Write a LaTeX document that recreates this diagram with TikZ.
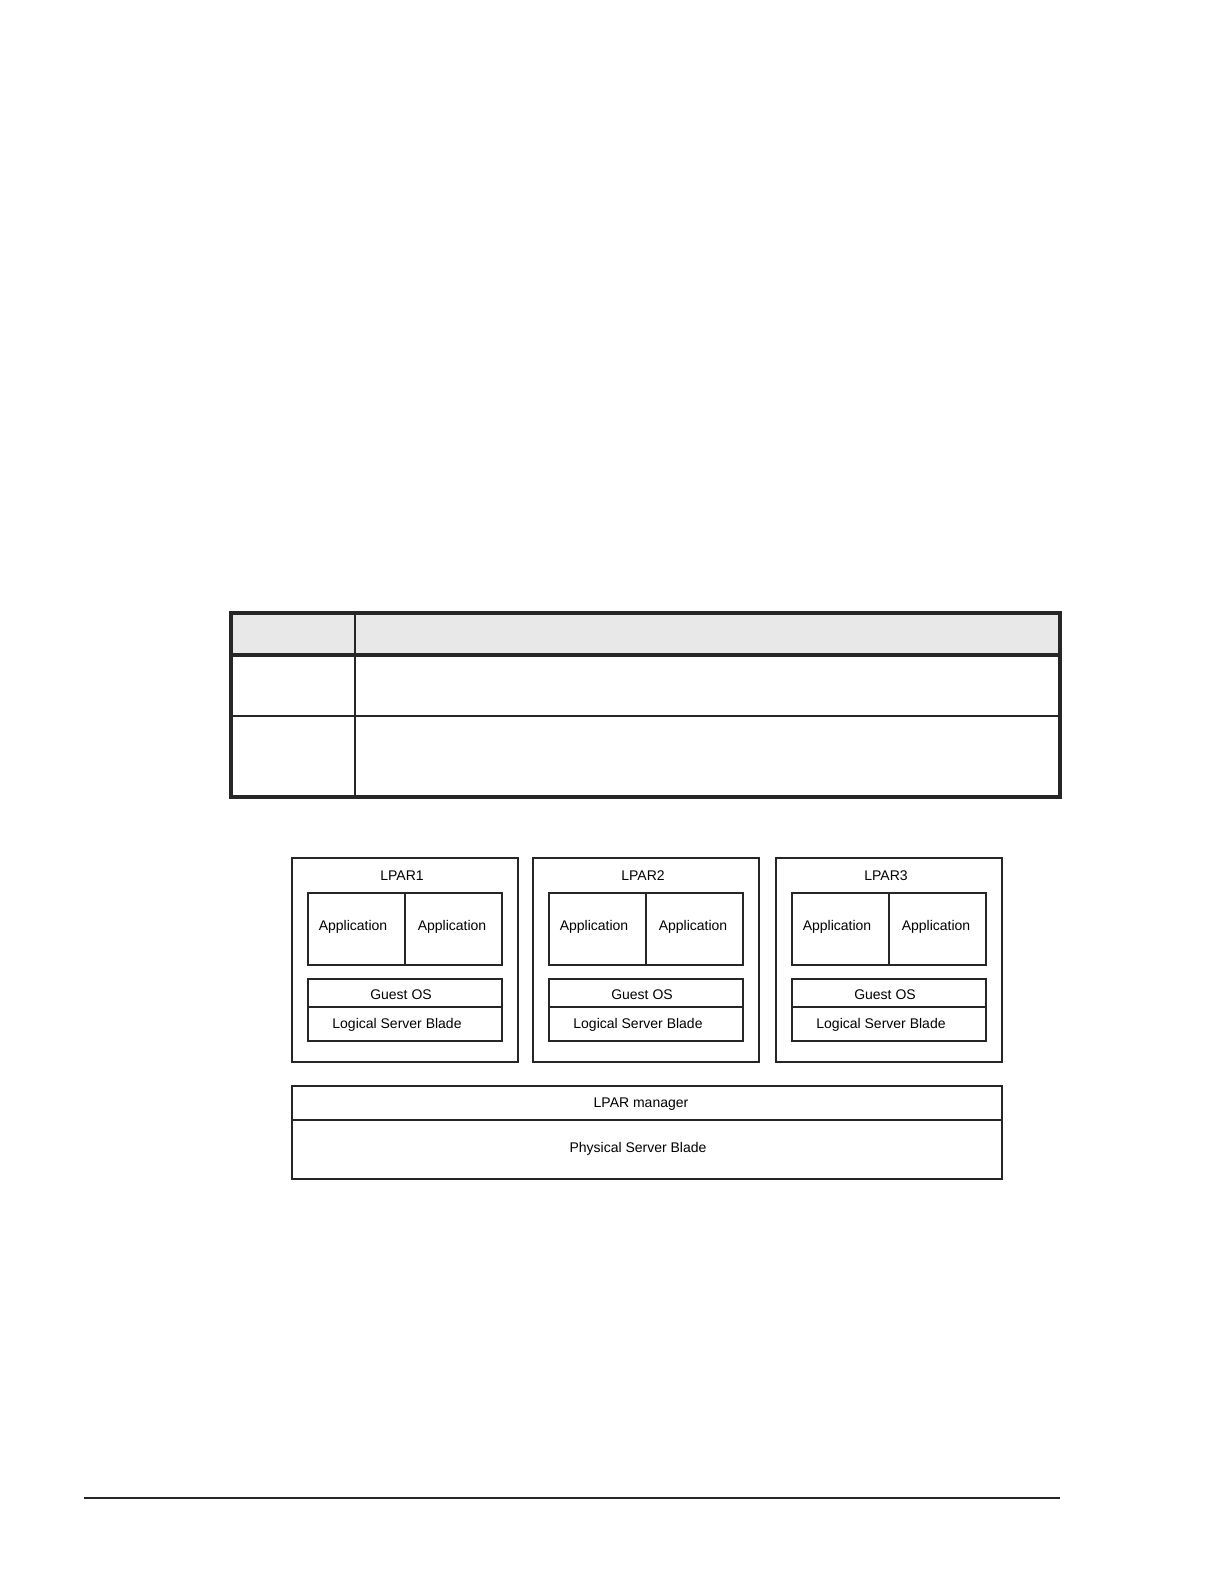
\documentclass[tikz,border=0pt]{standalone}
\usepackage{fontspec}
\setmainfont{Liberation Sans}
\begin{document}
\begin{tikzpicture}[x=0.5pt,y=-0.5pt,
  box/.style={draw=black!85,line width=0.75pt,inner sep=0pt,anchor=north west,font=\fontsize{7}{8}\selectfont,align=center},
  txt/.style={inner sep=0pt,font=\fontsize{7}{8}\selectfont},
  thickrule/.style={draw=black!85,line width=1.6pt},
  thinrule/.style={draw=black!85,line width=0.6pt}]
\useasboundingbox (0,0) rectangle (1224,1584);
% table
\fill[black!9] (231,613) rectangle (1060,655);
\draw[thinrule] (355,613) -- (355,797);
\draw[thinrule] (231,716) -- (1060,716);
\draw[thickrule] (231,655) -- (1060,655);
\draw[thickrule] (231,613) rectangle (1060,797);
% LPAR boxes
\foreach \i/\dx in {1/0,2/241,3/484}{
  \node[box,minimum width=113pt,minimum height=102pt] (lpar\i) at (291+\dx,857) {};
  \node[txt] (lparlabel\i) at (402+\dx,876) {LPAR\i};
  \node[box,minimum width=48.5pt,minimum height=36pt] (appA\i) at (307+\dx,892) {};
  \node[box,minimum width=48.5pt,minimum height=36pt] (appB\i) at (404+\dx,892) {};
  \node[txt] (appAtxt\i) at (353+\dx,927) {Application};
  \node[txt] (appBtxt\i) at (452+\dx,927) {Application};
  \node[box,minimum width=97pt,minimum height=14pt] (guest\i) at (307+\dx,978) {};
  \node[box,minimum width=97pt,minimum height=17pt] (lsb\i) at (307+\dx,1006) {};
  \node[txt] (guesttxt\i) at (401+\dx,995) {Guest OS};
  \node[txt] (lsbtxt\i) at (397+\dx,1025) {Logical Server Blade};
}
\node[box,minimum width=355pt,minimum height=17pt] (mgr) at (291,1085) {};
\node[box,minimum width=355pt,minimum height=29.5pt] (psb) at (291,1119) {};
\node[txt] (mgrtxt) at (641,1104) {LPAR manager};
\node[txt] (psbtxt) at (638,1149) {Physical Server Blade};
% footer rule
\draw[draw=black!85,line width=1.4pt] (84,1498) -- (1060,1498);
\end{tikzpicture}
\end{document}
